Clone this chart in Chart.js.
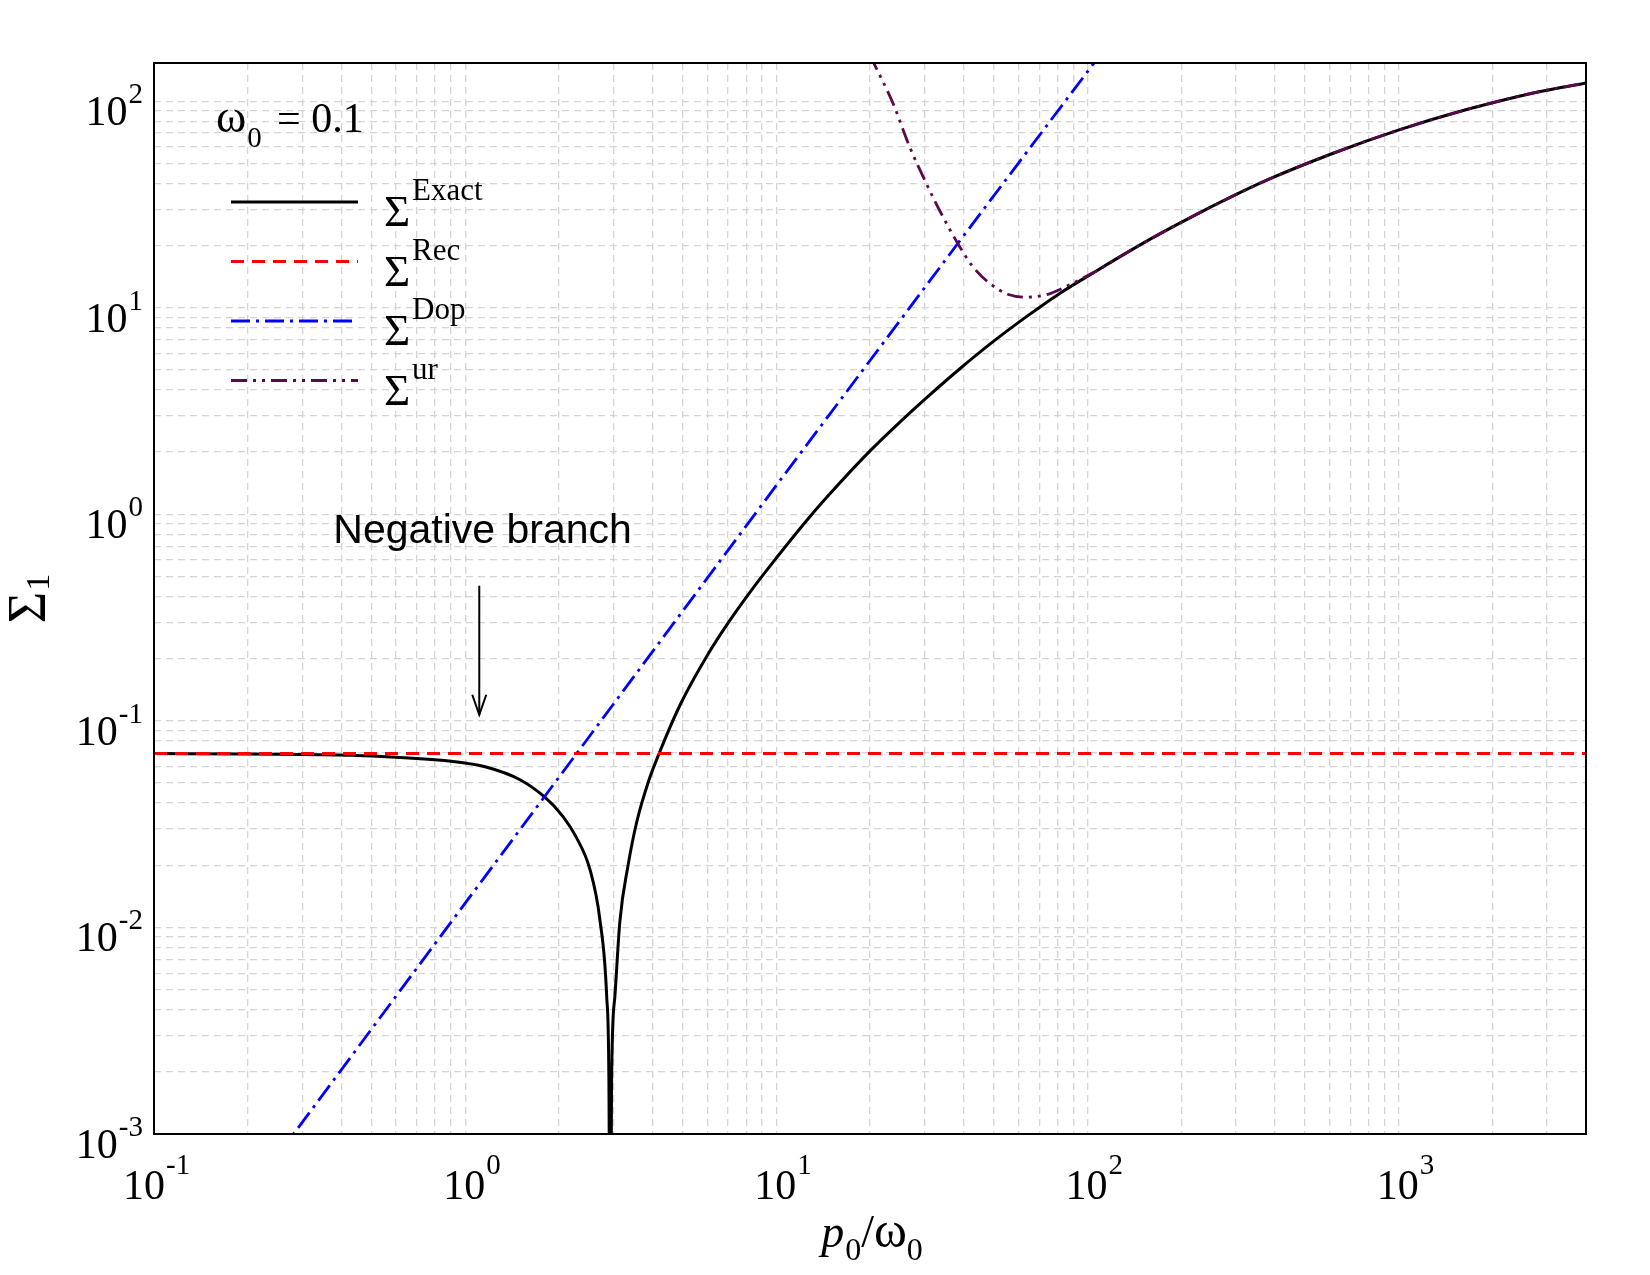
<!DOCTYPE html>
<html>
<head>
<meta charset="utf-8">
<script src="https://cdn.jsdelivr.net/npm/chart.js@4.4.1/dist/chart.umd.min.js"></script>
<style>
html,body{margin:0;padding:0;background:#fff;}
canvas{display:block;}
</style>
</head>
<body>
<canvas id="c" width="1650" height="1275"></canvas>
<script>
// ---------------- data ----------------
const exactX = [0.1, 0.2, 0.436, 0.914, 1.167, 1.5, 1.8, 2.06, 2.27, 2.52, 2.71, 2.85, 2.897, 2.925, 2.955, 3.028, 3.142, 3.341, 3.556, 3.873, 4.20, 4.90, 5.97, 7.0, 8.21, 10.0, 12.5, 14.5, 19.9, 25.5, 30.3, 38.8, 49.6, 63.5, 81.2, 104, 133, 170, 229, 375, 613, 1003, 1643, 2688, 4000];
const exactY = [0.0695, 0.0691, 0.0681, 0.0636, 0.0598, 0.0519, 0.0428, 0.0345, 0.0275, 0.0190, 0.0109, 0.00463, 0.00183, 0.0001, 0.00183, 0.00463, 0.0107, 0.0201, 0.0322, 0.0503, 0.0695, 0.119, 0.205, 0.298, 0.418, 0.614, 0.931, 1.205, 2.01, 2.88, 3.65, 5.05, 6.83, 9.03, 11.7, 14.71, 18.38, 22.7, 28.8, 41.3, 55.8, 72.6, 90.8, 109.3, 122.5];

const recX = [0.1, 4000];
const recY = [0.0695, 0.0695];

const dopX = [0.25, 1.0, 2.29, 10, 38.8, 110];
const dopY = [0.00079, 0.0131, 0.070, 1.38, 21.0, 168];

const urX = [20, 20.7, 23.7, 26.8, 30.3, 34.3, 38.8, 42.8, 48.4, 56.1, 63.5, 73.6, 85.3, 99, 104, 133, 170, 229, 375, 613, 1003, 1643, 2688, 4000];
const urY = [167, 150, 97.8, 60.3, 40.1, 27.6, 19.8, 15.8, 13.15, 11.55, 11.25, 11.55, 12.66, 14.16, 14.71, 18.38, 22.7, 28.8, 41.3, 55.8, 72.6, 90.8, 109.3, 122.5];

const seriesNames = ['Exact', 'Rec', 'Dop', 'ur'];

const xMajorTicks = [0.1, 1, 10, 100, 1000];
const xTickExponents = ['-1', '0', '1', '2', '3'];
const yMajorTicks = [0.001, 0.01, 0.1, 1, 10, 100];
const yTickExponents = ['-3', '-2', '-1', '0', '1', '2'];
const xRange = [0.1, 4000];
const yRange = [0.001, 153];

// ---------------- styles ----------------
const colors = ['#000000', '#ff0000', '#0000ff', '#5a0a4b'];
const dashes = [[], [13, 8], [19, 6, 3, 6], [16, 6, 3, 6, 3, 6]];
const widths = [3, 3, 2.8, 2.8];
const orders = [3, 1, 2, 0];
const smooth = [true, false, false, true];

function pts(xs, ys) { return xs.map((x, i) => ({x: x, y: ys[i]})); }
function logGrid(majors, lo, hi) {
  const out = [];
  majors.forEach(d => { for (let m = 1; m <= 9; m++) { const v = +(m * d).toPrecision(6); if (v >= lo && v <= hi) out.push(v); } });
  return out;
}

const seriesData = [pts(exactX, exactY), pts(recX, recY), pts(dopX, dopY), pts(urX, urY)];

const serif = '"Liberation Serif", "Times New Roman", serif';
const sans = '"Liberation Sans", Arial, sans-serif';

function drawPow(ctx, exp, x, y, align, supDy) {
  const baseFont = '42px ' + serif, supFont = '29px ' + serif;
  ctx.font = baseFont; const wb = ctx.measureText('10').width;
  ctx.font = supFont; const ws = ctx.measureText(exp).width;
  const total = wb + 1 + ws;
  const sx = align === 'center' ? x - wb / 2 - 1 - (exp.charAt(0) === '-' ? 9 : 0) : x - total;
  ctx.textAlign = 'left'; ctx.textBaseline = 'alphabetic'; ctx.fillStyle = '#000';
  ctx.font = baseFont; ctx.fillText('10', sx, y);
  ctx.font = supFont; ctx.fillText(exp, sx + wb + 1, y - supDy);
}

function drawRun(ctx, pieces, x, y) {
  let cx = x;
  pieces.forEach(p => {
    ctx.font = p[1];
    ctx.fillText(p[0], cx, y + (p[2] || 0));
    cx += ctx.measureText(p[0]).width + (p[3] || 0);
  });
  return cx;
}
function runWidth(ctx, pieces) {
  let w = 0;
  pieces.forEach(p => { ctx.font = p[1]; w += ctx.measureText(p[0]).width + (p[3] || 0); });
  return w;
}

const decorPlugin = {
  id: 'decor',
  afterDatasetsDraw(chart) {
    const ctx = chart.ctx, a = chart.chartArea;
    const xs = chart.scales.x, ys = chart.scales.y;
    ctx.save();
    ctx.strokeStyle = '#000'; ctx.lineWidth = 2; ctx.setLineDash([]);
    ctx.strokeRect(a.left, a.top, a.right - a.left, a.bottom - a.top);

    ctx.fillStyle = '#000';
    xMajorTicks.forEach((v, i) => {
      drawPow(ctx, xTickExponents[i], xs.getPixelForValue(v), a.bottom + 65, 'center', 25);
    });
    yMajorTicks.forEach((v, i) => {
      drawPow(ctx, yTickExponents[i], a.left - 11, ys.getPixelForValue(v) + 24, 'right', 22);
    });

    // x title: p0/ω0
    ctx.textAlign = 'left'; ctx.textBaseline = 'alphabetic';
    const xt = [['p', 'italic 46px ' + serif, 0, 1], ['0', '32px ' + serif, 13, 0], ['/', '46px ' + serif, 0, 0], ['ω', '50px ' + serif, 0, 0], ['0', '32px ' + serif, 13, 0]];
    const xtw = runWidth(ctx, xt);
    drawRun(ctx, xt, (a.left + a.right) / 2 - xtw / 2 + 2, 1247);

    // y title: Σ1 rotated
    ctx.save();
    ctx.translate(45, (a.top + a.bottom) / 2);
    ctx.rotate(-Math.PI / 2);
    const yt = [['Σ', '54px ' + serif, 0, 1], ['1', '34px ' + serif, 4, 0]];
    const ytw = runWidth(ctx, yt);
    drawRun(ctx, yt, -ytw / 2, 0);
    ctx.restore();

    // ω0 = 0.1
    drawRun(ctx, [['ω', '46px ' + serif, 0, 1], ['0', '29px ' + serif, 15, 0]], 216, 132);
    ctx.font = '42px ' + serif;
    ctx.fillText('= 0.1', 277, 132);

    // legend
    for (let i = 0; i < 4; i++) {
      const ly = 202 + 59.5 * i;
      ctx.save();
      ctx.strokeStyle = colors[i]; ctx.lineWidth = widths[i]; ctx.setLineDash(dashes[i]);
      ctx.beginPath(); ctx.moveTo(231, ly); ctx.lineTo(358, ly); ctx.stroke();
      ctx.restore();
      ctx.fillStyle = '#000';
      ctx.font = '45px ' + serif; ctx.fillText('Σ', 384, ly + 24);
      ctx.font = '31px ' + serif; ctx.fillText(seriesNames[i], 412, ly - 2);
    }

    // annotation: Negative branch + arrow
    ctx.font = '41px ' + sans;
    ctx.fillText('Negative branch', xs.getPixelForValue(0.377), ys.getPixelForValue(0.728));
    const ax = xs.getPixelForValue(1.11);
    const ay0 = ys.getPixelForValue(0.451), ay1 = ys.getPixelForValue(0.107);
    ctx.strokeStyle = '#000'; ctx.lineWidth = 2; ctx.setLineDash([]);
    ctx.beginPath(); ctx.moveTo(ax, ay0); ctx.lineTo(ax, ay1); ctx.stroke();
    ctx.beginPath(); ctx.moveTo(ax - 7, ay1 - 20); ctx.lineTo(ax, ay1); ctx.lineTo(ax + 7, ay1 - 20); ctx.stroke();
    ctx.restore();
  }
};

const gridOpts = { color: '#d4d4d4', lineWidth: 1.3, drawTicks: false };
const borderOpts = { display: false, dash: [7, 5] };

new Chart(document.getElementById('c'), {
  type: 'line',
  data: {
    datasets: seriesData.map((d, i) => ({
      label: seriesNames[i],
      data: d,
      borderColor: colors[i],
      borderWidth: widths[i],
      borderDash: dashes[i],
      pointRadius: 0,
      fill: false,
      tension: smooth[i] ? 0.4 : 0,
      cubicInterpolationMode: smooth[i] ? 'monotone' : 'default',
      order: orders[i]
    }))
  },
  options: {
    responsive: false,
    animation: false,
    devicePixelRatio: 1,
    layout: { padding: { left: 154, right: 64, top: 63, bottom: 141 } },
    plugins: { legend: { display: false }, tooltip: { enabled: false } },
    scales: {
      x: {
        type: 'logarithmic', min: xRange[0], max: xRange[1],
        grid: gridOpts, border: borderOpts,
        ticks: { display: false },
        afterBuildTicks: axis => { axis.ticks = logGrid(xMajorTicks, xRange[0], xRange[1]).map(v => ({value: v})); }
      },
      y: {
        type: 'logarithmic', min: yRange[0], max: yRange[1],
        grid: gridOpts, border: borderOpts,
        ticks: { display: false },
        afterBuildTicks: axis => { axis.ticks = logGrid(yMajorTicks, yRange[0], yRange[1]).map(v => ({value: v})); }
      }
    }
  },
  plugins: [decorPlugin]
});
</script>
</body>
</html>
